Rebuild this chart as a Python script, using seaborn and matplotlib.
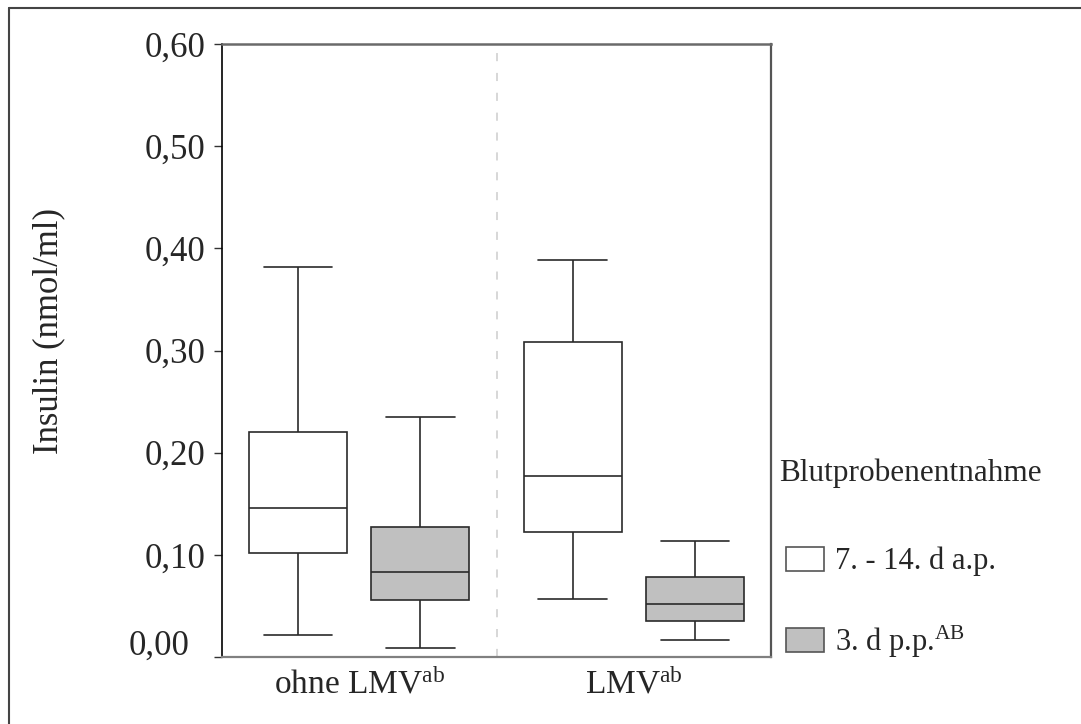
import numpy as np
import pandas as pd
import matplotlib
matplotlib.use("Agg")
import matplotlib.pyplot as plt
import matplotlib.transforms as mtransforms
from matplotlib.lines import Line2D
import seaborn as sns

# ---- data (five-number summaries) ----
groups = ["ohne LMV$^{\\mathrm{ab}}$", "LMV$^{\\mathrm{ab}}$"]
times = ["7. - 14. d a.p.", "3. d p.p.$^{\\mathrm{AB}}$"]
# [min, Q1, median, Q3, max]
ohne_ap = [0.022, 0.102, 0.146, 0.220, 0.382]
ohne_pp = [0.009, 0.056, 0.083, 0.127, 0.235]
lmv_ap = [0.057, 0.122, 0.177, 0.308, 0.389]
lmv_pp = [0.017, 0.035, 0.052, 0.078, 0.114]
yticks = [0.0, 0.1, 0.2, 0.3, 0.4, 0.5, 0.6]
ytick_labels = ["0,00", "0,10", "0,20", "0,30", "0,40", "0,50", "0,60"]

rows = []
for g, t, vals in [(groups[0], times[0], ohne_ap), (groups[0], times[1], ohne_pp),
                   (groups[1], times[0], lmv_ap), (groups[1], times[1], lmv_pp)]:
    for v in vals:
        rows.append({"group": g, "time": t, "value": v})
df = pd.DataFrame(rows)

sns.set_style("white")
plt.rcParams["font.family"] = ["Liberation Serif", "DejaVu Serif"]
plt.rcParams["mathtext.fontset"] = "custom"
plt.rcParams["mathtext.rm"] = "Liberation Serif"
plt.rcParams["mathtext.it"] = "Liberation Serif:italic"
plt.rcParams["mathtext.bf"] = "Liberation Serif:bold"

W, H = 1081, 724
fig = plt.figure(figsize=(W / 100, H / 100), dpi=100)
ax = fig.add_axes([222 / W, 1 - 657 / H, (771 - 222) / W, (657 - 44) / H])

sns.boxplot(data=df, x="group", y="value", hue="time", order=groups, hue_order=times,
            palette=["white", "#c0c0c0"], width=0.89, gap=0.2, whis=(0, 100),
            linecolor="#2a2a2a", linewidth=1.2, capwidths=0.25, ax=ax)

ax.axvline(0.5, color="#d4d4d4", lw=1.3, ls=(0, (4.5, 6.5)), zorder=0)

ax.set_xlim(-0.5, 1.5)
ax.set_ylim(0, 0.6)
ax.set_yticks(yticks)
ax.set_yticklabels(ytick_labels)
ax.set_xlabel("")
ax.set_ylabel("Insulin (nmol/ml)", fontsize=25)
ax.yaxis.set_label_coords(-0.286, 0.532)
ax.tick_params(axis="y", labelsize=25, length=6, width=1, color="#333333", pad=6, left=True)
ax.tick_params(axis="x", labelsize=24, length=0, pad=8)

# the 0,00 label sits a little left of and above its tick in the original
lbl0 = ax.get_yticklabels()[0]
lbl0.set_transform(lbl0.get_transform() + mtransforms.ScaledTranslation(-16 / 100, 15 / 100, fig.dpi_scale_trans))

for side, col, lw in [("left", "black", 1.2), ("bottom", "#808080", 1.6),
                      ("top", "#6a6a6a", 1.8), ("right", "#555555", 1.6)]:
    ax.spines[side].set_visible(True)
    ax.spines[side].set_color(col)
    ax.spines[side].set_linewidth(lw)

handles, labels = ax.get_legend_handles_labels()
if ax.get_legend() is not None:
    ax.get_legend().remove()
for h in handles:
    h.set_edgecolor("#555555")
leg = ax.legend(handles, labels, title="Blutprobenentnahme", loc="upper left",
                bbox_to_anchor=(779 / W, 1 - 459 / H), bbox_transform=fig.transFigure,
                frameon=False, fontsize=22, title_fontsize=22.5, borderpad=0,
                borderaxespad=0, handlelength=1.25, handleheight=0.82,
                handletextpad=0.35, labelspacing=1.55)
leg._legend_box.align = "left"
leg._legend_box.sep = 37
leg._legend_handle_box.pad = 5

# figure frame (left and top edges visible)
fig.add_artist(Line2D([9 / W, 9 / W], [0, 1 - 8 / H], color="#444444", lw=1.5, transform=fig.transFigure))
fig.add_artist(Line2D([9 / W, 1], [1 - 8 / H, 1 - 8 / H], color="#444444", lw=1.5, transform=fig.transFigure))

fig.savefig("out.png", dpi=100)
